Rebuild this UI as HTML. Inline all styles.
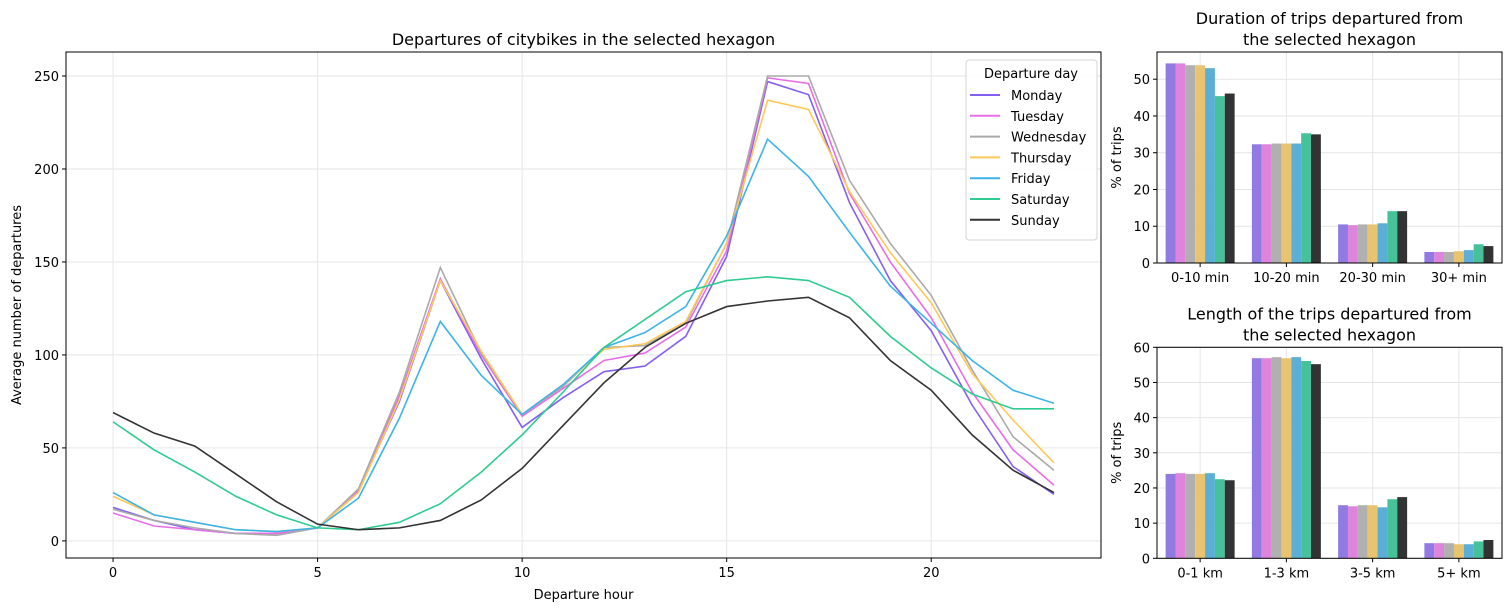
<!DOCTYPE html>
<html><head><meta charset="utf-8"><style>
body{margin:0;background:#fff;font-family:"DejaVu Sans","Liberation Sans",sans-serif;}
svg text{font-family:"DejaVu Sans","Liberation Sans",sans-serif;fill:#000;}
</style></head><body>
<svg id="c" width="1511" height="611" xmlns="http://www.w3.org/2000/svg"></svg>
<script>
const days=["Monday","Tuesday","Wednesday","Thursday","Friday","Saturday","Sunday"];
const lineColors=["#8360f0","#e86ee8","#aaaaaa","#ffc857","#3cb4e8","#2ecc90","#333333"];
const barColors=["#917be3","#dd84dd","#b0b0b0","#e8c470","#5baed6","#46c19a","#333333"];
const hours=[0,1,2,3,4,5,6,7,8,9,10,11,12,13,14,15,16,17,18,19,20,21,22,23];
const monday=[18,11,6,4,4,7,27,75,140,98,61,77,91,94,110,153,247,240,182,140,113,73,40,25];
const tuesday=[15,8,6,4,4,7,27,78,141,100,67,82,97,101,115,156,249,246,187,150,120,80,49,30];
const wednesday=[17,11,7,4,3,7,28,80,147,101,68,83,104,105,117,160,250,250,194,160,132,92,56,38];
const thursday=[24,14,10,6,5,7,26,76,140,102,68,84,103,106,118,160,237,232,188,155,128,90,65,42];
const friday=[26,14,10,6,5,7,23,66,118,89,68,84,104,112,126,164,216,196,166,137,117,97,81,74];
const saturday=[64,49,37,24,14,7,6,10,20,37,57,80,104,119,134,140,142,140,131,110,93,79,71,71];
const sunday=[69,58,51,36,21,9,6,7,11,22,39,62,85,104,117,126,129,131,120,97,81,57,38,26];
const series=[monday,tuesday,wednesday,thursday,friday,saturday,sunday];
const xTicks=[0,5,10,15,20];
const yTicks=[0,50,100,150,200,250];
const durCats=["0-10 min","10-20 min","20-30 min","30+ min"];
const durVals=[[54.3,32.3,10.5,3],[54.3,32.3,10.3,3],[53.8,32.5,10.5,3],[53.8,32.5,10.5,3.2],[53,32.5,10.8,3.5],[45.4,35.3,14.1,5.1],[46.1,35,14.1,4.6]];
const durTicks=[0,10,20,30,40,50];
const lenCats=["0-1 km","1-3 km","3-5 km","5+ km"];
const lenVals=[[24,56.9,15.1,4.3],[24.2,56.9,14.8,4.3],[24,57.2,15.1,4.3],[24,56.9,15.1,4],[24.2,57.2,14.5,4],[22.5,56.1,16.8,4.8],[22.2,55.2,17.4,5.2]];
const lenTicks=[0,10,20,30,40,50,60];

const svg=document.getElementById('c');
const NS="http://www.w3.org/2000/svg";
function mk(tag,attrs,parent){const e=document.createElementNS(NS,tag);for(const k in attrs)e.setAttribute(k,attrs[k]);(parent||svg).appendChild(e);return e;}
function txt(s,x,y,size,anchor,parent,rot){const t=mk('text',{x:x,y:y,'font-size':size,'text-anchor':anchor||'middle'},parent);if(rot)t.setAttribute('transform','rotate(-90 '+x+' '+y+')');t.textContent=s;return t;}

// ---- main line chart ----
const M={l:66,r:1101,t:52,b:558,x0:-1.15,x1:24.15,y0:-9.2,y1:262.9};
const mx=v=>M.l+(v-M.x0)/(M.x1-M.x0)*(M.r-M.l);
const my=v=>M.b-(v-M.y0)/(M.y1-M.y0)*(M.b-M.t);
const gMain=mk('g',{});


xTicks.forEach(v=>{const l=mk('line',{x1:mx(v),x2:mx(v),y1:M.t,y2:M.b,stroke:'#e6e6e6'},gMain);
 mk('line',{x1:mx(v),x2:mx(v),y1:M.b,y2:M.b+4,stroke:'#000'},gMain);
 const t=txt(String(v),mx(v),M.b+19,13,'middle',gMain);});
yTicks.forEach(v=>{const l=mk('line',{x1:M.l,x2:M.r,y1:my(v),y2:my(v),stroke:'#e6e6e6'},gMain);
 mk('line',{x1:M.l-4,x2:M.l,y1:my(v),y2:my(v),stroke:'#000'},gMain);
 const t=txt(String(v),M.l-7,my(v)+5,13,'end',gMain);});
series.forEach((s,i)=>{const p=mk('polyline',{points:s.map((v,j)=>mx(hours[j])+','+my(v)).join(' '),fill:'none',stroke:lineColors[i],'stroke-width':1.6},gMain);
 });
const fr=mk('rect',{x:M.l,y:M.t,width:M.r-M.l,height:M.b-M.t,fill:'none',stroke:'#000','stroke-width':1},gMain);

let t1=txt('Departures of citybikes in the selected hexagon',(M.l+M.r)/2,45,16,'middle',gMain);

let t2=txt('Departure hour',(M.l+M.r)/2,599,13,'middle',gMain);

let t3=txt('Average number of departures',21,305,13,'middle',gMain,true);

// legend
const lg=mk('g',{},gMain);


mk('rect',{x:966,y:60,width:131,height:180,rx:3,fill:'#fff','fill-opacity':0.85,stroke:'#d5d5d5'},lg);
let lt=txt('Departure day',1031,78,13,'middle',lg);

days.forEach((d,i)=>{const y=95+i*20.8;const e=mk('g',{},lg);
 
 mk('line',{x1:970,x2:1000,y1:y,y2:y,stroke:lineColors[i],'stroke-width':2},e);
 txt(d,1011,y+5,13,'start',e);});

// ---- bar charts ----
function barChart(name,top,bottom,ymax,cats,vals,ticks,title1,title2){
 const B={l:1157,r:1502,t:top,b:bottom};
 const bx=v=>B.l+(v+0.5)/4*(B.r-B.l);
 const by=v=>B.b-v/ymax*(B.b-B.t);
 const g=mk('g',{});
 
 
 cats.forEach((c,i)=>{mk('line',{x1:bx(i),x2:bx(i),y1:B.t,y2:B.b,stroke:'#e6e6e6'},g);
  mk('line',{x1:bx(i),x2:bx(i),y1:B.b,y2:B.b+4,stroke:'#000'},g);
  const t=txt(c,bx(i),B.b+19,13,'middle',g);});
 ticks.forEach(v=>{mk('line',{x1:B.l,x2:B.r,y1:by(v),y2:by(v),stroke:'#e6e6e6'},g);
  mk('line',{x1:B.l-4,x2:B.l,y1:by(v),y2:by(v),stroke:'#000'},g);
  const t=txt(String(v),B.l-7,by(v)+5,13,'end',g);});
 const bw=0.8/7;
 vals.forEach((arr,d)=>arr.forEach((v,i)=>{const x0=bx(i-0.4+d*bw);const w=bx(i-0.4+(d+1)*bw)-x0;
  const r=mk('rect',{x:x0,y:by(v),width:w,height:by(0)-by(v),fill:barColors[d]},g);
  }));
 mk('rect',{x:B.l,y:B.t,width:B.r-B.l,height:B.b-B.t,fill:'none',stroke:'#000'},g);
 const a=txt(title1,(B.l+B.r)/2,B.t-28,16,'middle',g);
 const b=txt(title2,(B.l+B.r)/2,B.t-7,16,'middle',g);
 const y=txt('% of trips',1121,(B.t+B.b)/2,13,'middle',g,true);
}
barChart('duration-bar-chart',52,263,57.4,durCats,durVals,durTicks,'Duration of trips departured from','the selected hexagon');
barChart('length-bar-chart',347.3,558.3,60,lenCats,lenVals,lenTicks,'Length of the trips departured from','the selected hexagon');
</script>
</body></html>
